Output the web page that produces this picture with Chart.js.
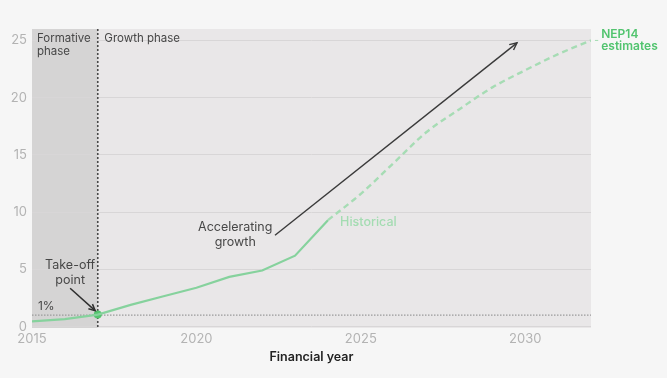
<!DOCTYPE html>
<html>
<head>
<meta charset="utf-8">
<script src="https://cdn.jsdelivr.net/npm/chart.js@4/dist/chart.umd.min.js"></script>
<style>
  html, body { margin: 0; padding: 0; background: #f6f6f6; }
  #wrap { width: 667px; height: 378px; position: relative; }
</style>
</head>
<body>
<div id="wrap"><canvas id="chart"></canvas></div>
<script>
  "use strict";

  // ── Data ────────────────────────────────────────────────────────────────
  const HIST_YEARS = [2015, 2016, 2017, 2018, 2019, 2020, 2021, 2022, 2023, 2024];
  const HIST_VALUES = [0.45, 0.65, 1.05, 1.9, 2.65, 3.4, 4.35, 4.9, 6.2, 9.3];

  const PROJ_YEARS = [2024, 2025, 2026, 2027, 2028, 2029, 2030, 2031, 2032];
  const PROJ_VALUES = [9.3, 11.6, 14.3, 17.0, 19.0, 20.9, 22.4, 23.8, 25.0];

  const TAKEOFF_YEAR = 2017;
  const TAKEOFF_VALUE = 1.05;
  const ONE_PERCENT = 1;

  const X_TICKS = [2015, 2020, 2025, 2030];
  const Y_TICKS = [0, 5, 10, 15, 20, 25];

  const FONT = "Inter, 'Noto Sans', sans-serif";

  // ── Helpers ─────────────────────────────────────────────────────────────
  function toPoints(xs, ys) {
    return xs.map((x, i) => ({ x, y: ys[i] }));
  }

  function arrow(ctx, x1, y1, x2, y2, size) {
    const a = Math.atan2(y2 - y1, x2 - x1);
    ctx.beginPath();
    ctx.moveTo(x1, y1);
    ctx.lineTo(x2, y2);
    ctx.stroke();
    ctx.beginPath();
    ctx.moveTo(x2 - size * Math.cos(a - 0.45), y2 - size * Math.sin(a - 0.45));
    ctx.lineTo(x2, y2);
    ctx.lineTo(x2 - size * Math.cos(a + 0.45), y2 - size * Math.sin(a + 0.45));
    ctx.stroke();
  }

  // ── Shaded phases behind the grid ───────────────────────────────────────
  const phaseBackdrop = {
    id: "phaseBackdrop",
    beforeDraw(chart) {
      const { ctx, chartArea: a, scales } = chart;
      const xSplit = scales.x.getPixelForValue(TAKEOFF_YEAR);
      ctx.save();
      ctx.fillStyle = "#e9e7e8";
      ctx.fillRect(a.left, a.top, a.right - a.left, a.bottom - a.top);
      ctx.fillStyle = "#d5d4d4";
      ctx.fillRect(a.left, a.top, xSplit - a.left, a.bottom - a.top);
      ctx.restore();
    },
  };

  // ── Reference lines (take-off year, 1% level) ───────────────────────────
  const referenceLines = {
    id: "referenceLines",
    beforeDatasetsDraw(chart) {
      const { ctx, chartArea: a, scales } = chart;
      const x = scales.x.getPixelForValue(TAKEOFF_YEAR);
      const y = scales.y.getPixelForValue(ONE_PERCENT);
      ctx.save();
      ctx.strokeStyle = "#9a9a9a";
      ctx.lineWidth = 1.2;
      ctx.setLineDash([1.5, 1.5]);
      ctx.beginPath();
      ctx.moveTo(a.left, y);
      ctx.lineTo(a.right, y);
      ctx.stroke();
      ctx.strokeStyle = "#4a4a4a";
      ctx.lineWidth = 1.6;
      ctx.setLineDash([2, 2]);
      ctx.beginPath();
      ctx.moveTo(x, a.top);
      ctx.lineTo(x, a.bottom);
      ctx.stroke();
      ctx.restore();
    },
  };

  // ── Labels and arrows ───────────────────────────────────────────────────
  const annotations = {
    id: "annotations",
    afterDatasetsDraw(chart) {
      const { ctx, scales } = chart;
      const px = (v) => scales.x.getPixelForValue(v);
      const py = (v) => scales.y.getPixelForValue(v);

      const text = (str, x, y, opts) => {
        ctx.font = `${opts.weight || 400} ${opts.size || 12}px ${FONT}`;
        ctx.fillStyle = opts.color;
        ctx.textAlign = opts.align || "left";
        ctx.textBaseline = "middle";
        ctx.fillText(str, px(x), py(y));
      };

      ctx.save();
      const dark = "#474747";
      text("Formative", 2015.15, 25.16, { color: dark, size: 11.5 });
      text("phase", 2015.15, 24.0, { color: dark, size: 11.5 });
      text("Growth phase", 2017.2, 25.16, { color: dark, size: 11.5 });

      text("Take-off", 2016.16, 5.36, { color: dark, size: 12.5, align: "center" });
      text("point", 2016.16, 4.05, { color: dark, size: 12.5, align: "center" });
      text("1%", 2015.18, 1.73, { color: dark, size: 12 });

      text("Accelerating", 2021.18, 8.65, { color: dark, size: 12.5, align: "center" });
      text("growth", 2021.18, 7.34, { color: dark, size: 12.5, align: "center" });

      text("Historical", 2024.37, 9.12, { color: "#a4dcb2", size: 12.5, weight: 500 });
      text("NEP14", 2032.31, 25.5, { color: "#52c46f", size: 12, weight: 600 });
      text("estimates", 2032.31, 24.5, { color: "#52c46f", size: 12, weight: 600 });

      ctx.strokeStyle = "#2e2e2e";
      ctx.lineWidth = 1.5;
      arrow(ctx, px(2016.16), py(3.35), px(2016.92), py(1.4), 7);
      ctx.strokeStyle = "#3a3a3a";
      ctx.lineWidth = 1.4;
      arrow(ctx, px(2022.39), py(7.98), px(2029.75), py(24.79), 8);

      // short leader next to the estimates label
      ctx.strokeStyle = "#a4dcb2";
      ctx.lineWidth = 1;
      ctx.beginPath();
      ctx.moveTo(px(2032.12), py(25.0));
      ctx.lineTo(px(2032.22), py(25.0));
      ctx.stroke();
      ctx.restore();
    },
  };

  // ── Chart ───────────────────────────────────────────────────────────────
  new Chart(document.getElementById("chart"), {
    type: "line",
    data: {
      datasets: [
        {
          label: "Historical",
          data: toPoints(HIST_YEARS, HIST_VALUES),
          borderColor: "#86d29d",
          borderWidth: 2.2,
          pointRadius: 0,
          tension: 0,
        },
        {
          label: "NEP14 estimates",
          data: toPoints(PROJ_YEARS, PROJ_VALUES),
          borderColor: "#a6dcb4",
          borderWidth: 2.4,
          borderDash: [6, 4],
          pointRadius: 0,
          cubicInterpolationMode: "monotone",
        },
        {
          label: "Take-off point",
          data: [{ x: TAKEOFF_YEAR, y: TAKEOFF_VALUE }],
          showLine: false,
          pointRadius: 4,
          pointBackgroundColor: "#55c56f",
          pointBorderWidth: 0,
        },
      ],
    },
    options: {
      responsive: true,
      maintainAspectRatio: false,
      animation: false,
      layout: { padding: { top: 29, right: 76, left: 0, bottom: 0 } },
      plugins: {
        legend: { display: false },
        tooltip: { enabled: false },
      },
      scales: {
        x: {
          type: "linear",
          min: 2015,
          max: 2032,
          afterBuildTicks: (s) => { s.ticks = X_TICKS.map((v) => ({ value: v })); },
          afterFit: (s) => { s.height = 50; },
          grid: { display: false, drawTicks: false },
          border: { display: false },
          ticks: {
            padding: 3,
            color: "#b3b3b3",
            font: { family: FONT, size: 13 },
            callback: (v) => String(v),
          },
          title: {
            display: true,
            text: "Financial year",
            color: "#222222",
            font: { family: FONT, size: 12.5, weight: 600 },
            padding: { top: 0, bottom: 13 },
          },
        },
        y: {
          min: -0.12,
          max: 26,
          afterBuildTicks: (s) => { s.ticks = Y_TICKS.map((v) => ({ value: v })); },
          afterFit: (s) => { s.width = 32; },
          grid: { color: "#d8d6d7", lineWidth: 1, drawTicks: false },
          border: { display: false },
          ticks: {
            padding: 5,
            color: "#b3b3b3",
            font: { family: FONT, size: 13 },
          },
        },
      },
    },
    plugins: [phaseBackdrop, referenceLines, annotations],
  });
</script>
</body>
</html>
